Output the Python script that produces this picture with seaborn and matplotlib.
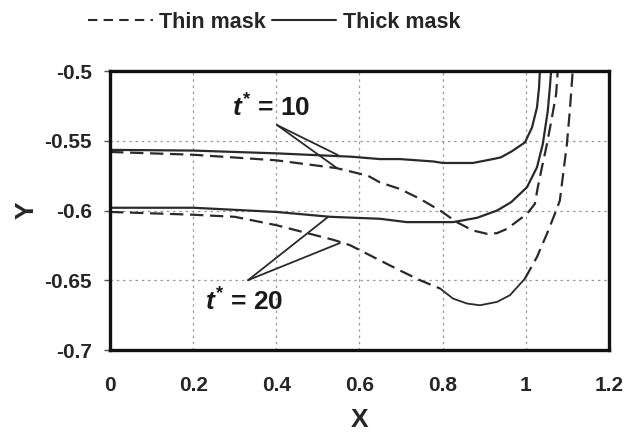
import matplotlib
matplotlib.use("Agg")
import matplotlib.pyplot as plt
import seaborn as sns
import pandas as pd
from matplotlib.lines import Line2D

# ---- data ----
thick10_x = [0, 0.2, 0.4, 0.58, 0.649, 0.697, 0.777, 0.801, 0.873, 0.921, 0.94, 0.965, 0.998, 1.015, 1.027, 1.032, 1.034]
thick10_y = [-0.5565, -0.557, -0.559, -0.5614, -0.5631, -0.5631, -0.5648, -0.5659, -0.5659, -0.5631, -0.5619, -0.5578, -0.5512, -0.5405, -0.5262, -0.5119, -0.5]

thick20_x = [0, 0.2, 0.4, 0.53, 0.649, 0.714, 0.825, 0.883, 0.931, 0.965, 1.003, 1.027, 1.041, 1.053, 1.058, 1.061]
thick20_y = [-0.598, -0.598, -0.601, -0.6045, -0.6059, -0.6083, -0.6083, -0.6052, -0.6, -0.594, -0.5833, -0.569, -0.5524, -0.5286, -0.5119, -0.5]

thin10_x = [0, 0.1, 0.2, 0.4, 0.545, 0.62, 0.649, 0.697, 0.746, 0.794, 0.834, 0.873, 0.907, 0.931, 0.955, 1.003, 1.022, 1.029, 1.039, 1.051, 1.063, 1.073, 1.077]
thin10_y = [-0.558, -0.559, -0.560, -0.564, -0.5696, -0.575, -0.5798, -0.5845, -0.5917, -0.6, -0.6083, -0.6143, -0.6167, -0.6162, -0.6131, -0.6024, -0.5952, -0.5833, -0.569, -0.5524, -0.5333, -0.5167, -0.5]

thin20_x = [0, 0.2, 0.3, 0.4, 0.537, 0.577, 0.649, 0.697, 0.746, 0.794, 0.825, 0.859, 0.89, 0.931, 0.962, 0.998, 1.027, 1.051, 1.070, 1.082, 1.089, 1.099, 1.106, 1.113]
thin20_y = [-0.601, -0.603, -0.6045, -0.6105, -0.621, -0.6248, -0.6357, -0.6429, -0.65, -0.6559, -0.6631, -0.6667, -0.6679, -0.6655, -0.6607, -0.6488, -0.6333, -0.6167, -0.6024, -0.5929, -0.5762, -0.5524, -0.5286, -0.5]
# in the reference the thin-mask t*=20 curve is drawn unbroken between these x values
thin20_solid_from, thin20_solid_to = 0.794, 0.998

x_ticks = [0, 0.2, 0.4, 0.6, 0.8, 1.0, 1.2]
x_tick_labels = ["0", "0.2", "0.4", "0.6", "0.8", "1", "1.2"]
y_ticks = [-0.7, -0.65, -0.6, -0.55, -0.5]
y_tick_labels = ["-0.7", "-0.65", "-0.6", "-0.55", "-0.5"]

legend_labels = ["Thin mask", "Thick mask"]

# annotation pointers (start, end1, end2)
ann10_label = "$t^{*}$ = 10"
ann10_start = (0.4016, -0.5387)
ann10_ends = [(0.548, -0.5602), (0.546, -0.5696)]
ann20_label = "$t^{*}$ = 20"
ann20_start = (0.332, -0.6499)
ann20_ends = [(0.524, -0.6047), (0.553, -0.6233)]

# ---- style ----
sns.set_theme(style="white")
plt.rcParams["font.family"] = ["Liberation Sans", "DejaVu Sans"]
plt.rcParams["font.weight"] = "bold"
plt.rcParams["mathtext.fontset"] = "custom"
plt.rcParams["mathtext.it"] = "Liberation Sans:italic:bold"
plt.rcParams["mathtext.rm"] = "Liberation Sans:bold"

line_col = "#2a2a2a"
dash = (6, 3)

fig = plt.figure(figsize=(6.29, 4.4), dpi=100)
ax = fig.add_axes([0.175, 0.2045, 0.793, 0.634])

def draw(xs, ys, dashed, lw=1.6):
    df = pd.DataFrame({"x": xs, "y": ys})
    sns.lineplot(data=df, x="x", y="y", ax=ax, sort=False, color=line_col,
                 linewidth=lw, linestyle="--" if dashed else "-",
                 estimator=None)
    if dashed:
        ax.lines[-1].set_dashes(dash)

draw(thick10_x, thick10_y, False)
draw(thick20_x, thick20_y, False)
draw(thin10_x, thin10_y, True)

# thin t*=20: dashed, with the unbroken stretch near its minimum
pre = [(x, y) for x, y in zip(thin20_x, thin20_y) if x <= thin20_solid_from]
mid = [(x, y) for x, y in zip(thin20_x, thin20_y) if thin20_solid_from <= x <= thin20_solid_to]
post = [(x, y) for x, y in zip(thin20_x, thin20_y) if x >= thin20_solid_to]
draw([p[0] for p in pre], [p[1] for p in pre], True)
draw([p[0] for p in mid], [p[1] for p in mid], False, lw=1.3)
draw([p[0] for p in post], [p[1] for p in post], True)

# annotation lines
for start, ends in [(ann10_start, ann10_ends), (ann20_start, ann20_ends)]:
    for e in ends:
        ax.plot([start[0], e[0]], [start[1], e[1]], color=line_col, linewidth=1.3)

ax.text(0.387, -0.5365, ann10_label, fontsize=19, fontweight="bold",
        ha="center", va="bottom", color="#1a1a1a")
ax.text(0.322, -0.6655, ann20_label, fontsize=19, fontweight="bold",
        ha="center", va="center", color="#1a1a1a")

ax.set_xlim(0, 1.2)
ax.set_ylim(-0.7, -0.5)
ax.set_xticks(x_ticks)
ax.set_xticklabels(x_tick_labels, fontsize=15, fontweight="bold")
ax.set_yticks(y_ticks)
ax.set_yticklabels(y_tick_labels, fontsize=15, fontweight="bold")
ax.tick_params(axis="y", which="major", direction="out", length=4, width=1, color="#555555", pad=9, left=True)
ax.tick_params(axis="x", which="major", length=0, pad=19)

ax.grid(True, color="#9a9a9a", linestyle=(0, (2, 3)), linewidth=0.9)
for s in ax.spines.values():
    s.set_visible(True)
    s.set_color("#111111")
    s.set_linewidth(2.4)

ax.set_xlabel("X", fontsize=19, fontweight="bold", labelpad=9)
ax.set_ylabel("Y", fontsize=19, fontweight="bold", labelpad=4)

handles = [Line2D([0], [0], color=line_col, linewidth=1.5, linestyle="--", dashes=(4.5, 3)),
           Line2D([0], [0], color=line_col, linewidth=1.5, linestyle="-")]
fig.legend(handles, legend_labels, loc="center", bbox_to_anchor=(0.436, 0.95), ncol=2,
           frameon=False, handlelength=3.0, handletextpad=0.3,
           columnspacing=0.25, prop={"weight": "bold", "size": 15.5})

fig.savefig("out.png", dpi=100)
